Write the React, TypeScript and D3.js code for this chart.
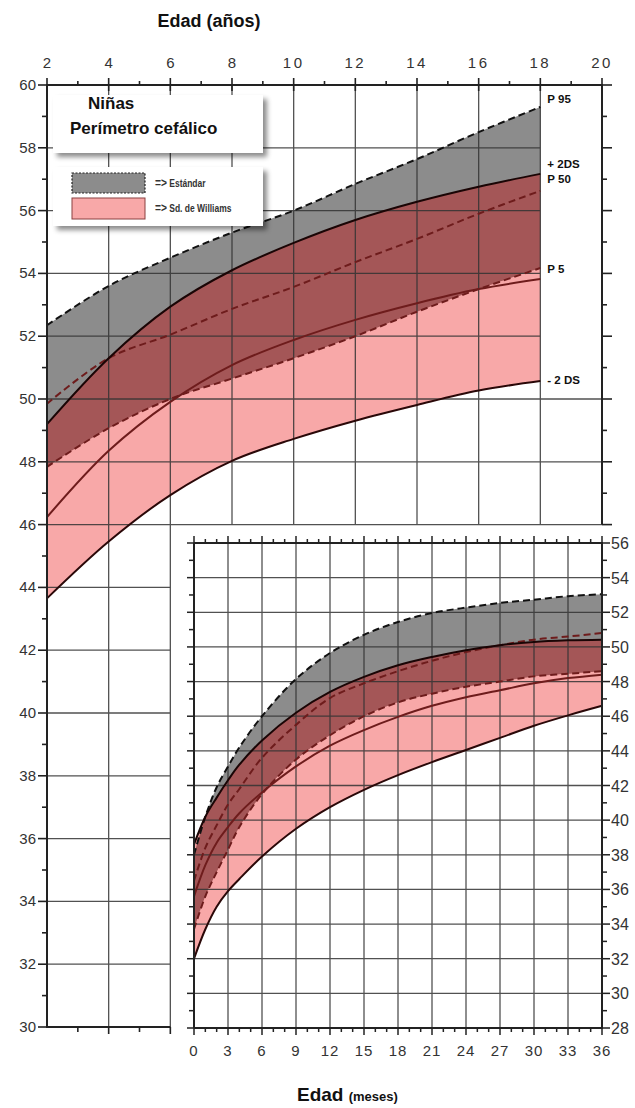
import * as d3 from 'd3';

// ----- outer chart: age in years -----
const ages = [2, 4, 6, 8, 10, 12, 14, 16, 18];
const stdP95 = [52.35, 53.6, 54.5, 55.3, 56.0, 56.85, 57.64, 58.5, 59.3];
const stdP50 = [49.85, 51.3, 52.05, 52.87, 53.57, 54.36, 55.1, 55.9, 56.63];
const stdP5 = [47.84, 49.07, 50.0, 50.65, 51.3, 52.0, 52.78, 53.5, 54.17];
const wilPlus2 = [49.2, 51.3, 52.94, 54.1, 54.97, 55.7, 56.28, 56.76, 57.17];
const wilP50 = [46.24, 48.35, 49.91, 51.08, 51.88, 52.52, 53.05, 53.5, 53.82];
const wilMinus2 = [43.65, 45.46, 46.94, 48.03, 48.73, 49.31, 49.81, 50.27, 50.57];

// ----- inset chart: age in months -----
const months = [0, 1, 2, 3, 4, 6, 9, 12, 15, 18, 21, 24, 27, 30, 33, 36];
const mStdP95 = [38.0, 40.2, 41.9, 43.1, 44.2, 46.0, 48.15, 49.65, 50.7, 51.44, 51.96, 52.27, 52.54, 52.73, 52.93, 53.04];
const mStdP50 = [36.5, 38.4, 39.7, 40.9, 41.8, 43.6, 45.5, 47.05, 47.9, 48.6, 49.2, 49.7, 50.1, 50.42, 50.6, 50.8];
const mStdP5 = [33.7, 35.6, 37.0, 38.3, 39.6, 41.5, 43.5, 44.9, 46.0, 46.8, 47.3, 47.7, 48.0, 48.3, 48.45, 48.6];
const mWilPlus2 = [38.6, 40.2, 41.3, 42.3, 43.2, 44.6, 46.2, 47.4, 48.27, 48.94, 49.42, 49.81, 50.1, 50.29, 50.38, 50.42];
const mWilP50 = [35.6, 37.4, 38.7, 39.6, 40.4, 41.6, 43.1, 44.3, 45.2, 45.96, 46.6, 47.1, 47.5, 47.9, 48.2, 48.4];
const mWilMinus2 = [32.0, 33.7, 35.0, 35.9, 36.6, 37.9, 39.5, 40.75, 41.75, 42.6, 43.35, 44.05, 44.75, 45.45, 46.05, 46.6];

// tick labels
const yearLabels = [2, 4, 6, 8, 10, 12, 14, 16, 18, 20];
const cmLabels = [30, 32, 34, 36, 38, 40, 42, 44, 46, 48, 50, 52, 54, 56, 58, 60];
const monthLabels = [0, 3, 6, 9, 12, 15, 18, 21, 24, 27, 30, 33, 36];
const insetCmLabels = [28, 30, 32, 34, 36, 38, 40, 42, 44, 46, 48, 50, 52, 54, 56];
const curveLabels = [
  { text: 'P 95', age: 18, v: 59.55 },
  { text: '+ 2DS', age: 18, v: 57.5 },
  { text: 'P 50', age: 18, v: 57.0 },
  { text: 'P 5', age: 18, v: 54.15 },
  { text: '- 2 DS', age: 18, v: 50.6 },
];

const GREY = '#8c8c8c';
const PINK = '#f8a8a8';
const DARK = '#a45657';
const RED_LINE = '#6e1c1c';
const FONT = '"Liberation Sans", Arial, sans-serif';

const x = d3.scaleLinear().domain([2, 20]).range([47, 602]);
const y = d3.scaleLinear().domain([30, 60]).range([1027, 85]);
const xm = d3.scaleLinear().domain([0, 36]).range([194, 602]);
const ym = d3.scaleLinear().domain([28, 56]).range([1028, 543]);

type Scale = d3.ScaleLinear<number, number>;
const smooth = d3.curveCatmullRom.alpha(0.5);

const band = (xs: number[], sx: Scale, sy: Scale, hi: number[], lo: number[]) =>
  d3
    .area<number>()
    .x((d) => sx(d))
    .y0((_, i) => sy(lo[i]))
    .y1((_, i) => sy(hi[i]))
    .curve(smooth)(xs) || '';

const curve = (xs: number[], sx: Scale, sy: Scale, v: number[]) =>
  d3
    .line<number>()
    .x((d) => sx(d))
    .y((_, i) => sy(v[i]))
    .curve(smooth)(xs) || '';

const Bands = ({ id, xs, sx, sy, p95, p5, w2, wm2 }: any) => (
  <g>
    <clipPath id={id}>
      <path d={band(xs, sx, sy, p95, p5)} />
    </clipPath>
    <path d={band(xs, sx, sy, p95, p5)} fill={GREY} />
    <path d={band(xs, sx, sy, w2, wm2)} fill={PINK} />
    <path d={band(xs, sx, sy, w2, wm2)} fill={DARK} clipPath={`url(#${id})`} />
  </g>
);

const Curves = ({ xs, sx, sy, p95, p50, p5, w2, w50, wm2 }: any) => (
  <g fill="none" strokeWidth={2}>
    <path d={curve(xs, sx, sy, p95)} stroke="#111" strokeDasharray="7,4" />
    <path d={curve(xs, sx, sy, p50)} stroke={RED_LINE} strokeDasharray="7,4" />
    <path d={curve(xs, sx, sy, p5)} stroke={RED_LINE} strokeDasharray="7,4" />
    <path d={curve(xs, sx, sy, w2)} stroke="#1a0505" />
    <path d={curve(xs, sx, sy, w50)} stroke={RED_LINE} />
    <path d={curve(xs, sx, sy, wm2)} stroke="#2a0808" />
  </g>
);

const Outer = () => {
  const hLines = [32, 34, 36, 38, 40, 42, 44, 46, 48, 50, 52, 54, 56, 58];
  const vLines = [4, 6, 8, 10, 12, 14, 16, 18];
  return (
    <g>
      <Bands id="clipOuter" xs={ages} sx={x} sy={y} p95={stdP95} p5={stdP5} w2={wilPlus2} wm2={wilMinus2} />
      <g stroke="#333" strokeWidth={1.3} opacity={0.85}>
        {hLines.map((v) => {
          const x2 = v < 46 ? x(6) : v <= 50 ? x(20) : x(18);
          return <line key={v} x1={x(2)} x2={x2} y1={y(v)} y2={y(v)} />;
        })}
        {vLines.map((a) => (
          <line key={a} x1={x(a)} x2={x(a)} y1={y(60)} y2={a <= 6 ? y(30) : y(46)} />
        ))}
      </g>
      <Curves xs={ages} sx={x} sy={y} p95={stdP95} p50={stdP50} p5={stdP5}
        w2={wilPlus2} w50={wilP50} wm2={wilMinus2} />
      <g stroke="#222" strokeWidth={2}>
        <line x1={x(2)} x2={x(2)} y1={y(60) - 1} y2={y(30) + 1} />
        <line x1={x(2) - 1} x2={x(20) + 1} y1={y(60)} y2={y(60)} />
        <line x1={x(20)} x2={x(20)} y1={y(60)} y2={y(46)} />
        <line x1={x(2)} x2={x(6)} y1={y(30)} y2={y(30)} />
      </g>
      <g stroke="#222" strokeWidth={1.6}>
        {d3.range(2, 21).map((a) => (
          <line key={'t' + a} x1={x(a)} x2={x(a)} y1={y(60) - (a % 2 ? 4 : 7)} y2={y(60) + (a % 2 ? 0 : 6)} />
        ))}
        {d3.range(30, 61).map((v) => (
          <line key={'l' + v} x1={x(2) - (v % 2 ? 5 : 9)} x2={x(2)} y1={y(v)} y2={y(v)} />
        ))}
        {d3.range(46, 61).map((v) => (
          <line key={'r' + v} x1={x(20)} x2={x(20) + (v % 2 ? 5 : 10)} y1={y(v)} y2={y(v)} />
        ))}
        {d3.range(3, 7).map((a) => (
          <line key={'b' + a} x1={x(a)} x2={x(a)} y1={y(30)} y2={y(30) + (a % 2 ? 5 : 7)} />
        ))}
      </g>
      <g fontFamily={FONT} fontSize={15} fill="#333">
        {yearLabels.map((a) => (
          <text key={a} x={x(a)} y={68} textAnchor="middle" letterSpacing={a >= 10 ? 2.5 : 0}>
            {a}
          </text>
        ))}
        {cmLabels.map((v) => (
          <text key={v} x={36} y={y(v) + 5} textAnchor="end">
            {v}
          </text>
        ))}
      </g>
      <g fontFamily={FONT} fontSize={11.5} fontWeight="bold" fill="#111">
        {curveLabels.map((c) => (
          <text key={c.text} x={x(c.age) + 7} y={y(c.v) + 4}>
            {c.text}
          </text>
        ))}
      </g>
    </g>
  );
};

const Inset = () => {
  const x0 = xm(0), x1 = xm(36), y0 = ym(28), y1 = ym(56);
  return (
    <g>
      <rect x={x0} y={y1} width={x1 - x0} height={y0 - y1} fill="#fff" />
      <Bands id="clipInset" xs={months} sx={xm} sy={ym} p95={mStdP95} p5={mStdP5} w2={mWilPlus2} wm2={mWilMinus2} />
      <g stroke="#333" strokeWidth={1.3} opacity={0.85}>
        {d3.range(3, 36, 3).map((m) => (
          <line key={m} x1={xm(m)} x2={xm(m)} y1={y1} y2={y0} />
        ))}
        {d3.range(30, 56, 2).map((v) => (
          <line key={v} x1={x0} x2={x1} y1={ym(v)} y2={ym(v)} />
        ))}
      </g>
      <Curves xs={months} sx={xm} sy={ym} p95={mStdP95} p50={mStdP50} p5={mStdP5}
        w2={mWilPlus2} w50={mWilP50} wm2={mWilMinus2} />
      <g stroke="#222" strokeWidth={2}>
        <line x1={x0} x2={x0} y1={y1} y2={y0} />
        <line x1={x1} x2={x1} y1={y1 - 1} y2={y0 + 1} />
        <line x1={x0} x2={x1} y1={y1} y2={y1} />
        <line x1={x0} x2={x1} y1={y0} y2={y0} />
      </g>
      <g stroke="#222" strokeWidth={1.5}>
        {d3.range(0, 37).map((m) => (
          <g key={m}>
            <line x1={xm(m)} x2={xm(m)} y1={y1 - (m % 3 ? 4 : 7)} y2={y1} />
            <line x1={xm(m)} x2={xm(m)} y1={y0} y2={y0 + (m % 3 ? 4 : 7)} />
          </g>
        ))}
        {d3.range(28, 57).map((v) => (
          <g key={v}>
            <line x1={x0 - (v % 2 ? 5 : 7)} x2={x0} y1={ym(v)} y2={ym(v)} />
            <line x1={x1} x2={x1 + (v % 2 ? 5 : 8)} y1={ym(v)} y2={ym(v)} />
          </g>
        ))}
      </g>
      <g fontFamily={FONT} fontSize={16} fill="#333">
        {insetCmLabels.map((v) => (
          <text key={v} x={x1 + 9} y={ym(v) + 6}>
            {v}
          </text>
        ))}
      </g>
      <g fontFamily={FONT} fontSize={15} fill="#333" letterSpacing={1}>
        {monthLabels.map((m) => (
          <text key={m} x={xm(m)} y={1056} textAnchor="middle">
            {m}
          </text>
        ))}
      </g>
    </g>
  );
};

const Legend = () => (
  <g fontFamily={FONT}>
    <rect x={53} y={95} width={210} height={58} fill="#fff" filter="url(#shadow)" />
    <text x={88} y={109} fontSize={17} fontWeight="bold" fill="#111">Niñas</text>
    <text x={70} y={134} fontSize={17} fontWeight="bold" fill="#111">Perímetro cefálico</text>
    <rect x={53} y={167} width={210} height={59} fill="#fff" filter="url(#shadow)" />
    <rect x={72} y={173} width={73} height={20} fill={GREY} stroke="#222" strokeWidth={1.2} strokeDasharray="2,1.5" />
    <rect x={72} y={198} width={73} height={21} fill={PINK} stroke="#8a4040" strokeWidth={1} />
    <text x={155} y={187} fontSize={10} fontWeight="bold" fill="#333" transform="translate(155,187) scale(0.85,1) translate(-155,-187)">
      <tspan fontSize={12}>=&gt;</tspan> Estándar
    </text>
    <text x={155} y={212} fontSize={10} fontWeight="bold" fill="#333" transform="translate(155,212) scale(0.85,1) translate(-155,-212)">
      <tspan fontSize={12}>=&gt;</tspan> Sd. de Williams
    </text>
  </g>
);

export default function App() {
  return (
    <svg width={635} height={1108} style={{ position: 'absolute', left: 0, top: 0, background: '#fff' }}>
      <defs>
        <filter id="shadow" x="-10%" y="-10%" width="130%" height="140%">
          <feDropShadow dx={4} dy={4} stdDeviation={2.5} floodColor="#000" floodOpacity={0.45} />
        </filter>
      </defs>
      <rect width={635} height={1108} fill="#fff" />
      <text x={209} y={27} textAnchor="middle" fontFamily={FONT} fontSize={18} fontWeight="bold" fill="#111">
        Edad (años)
      </text>
      <Outer />
      <Inset />
      <Legend />
      <text x={297} y={1101} fontFamily={FONT} fontWeight="bold" fill="#111">
        <tspan fontSize={19}>Edad </tspan>
        <tspan fontSize={13}>(meses)</tspan>
      </text>
    </svg>
  );
}
